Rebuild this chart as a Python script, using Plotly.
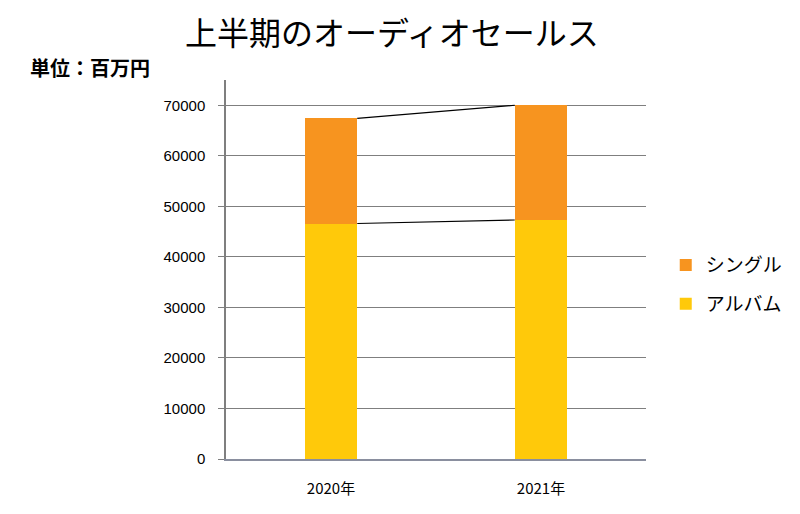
import plotly.graph_objects as go

categories = ["2020年", "2021年"]
album = [46600, 47300]
single = [20800, 22700]
y_ticks = [0, 10000, 20000, 30000, 40000, 50000, 60000, 70000]

BAR_W = 0.25
xs = list(range(len(categories)))
totals = [a + s for a, s in zip(album, single)]

fig = go.Figure()
fig.add_trace(go.Bar(x=xs, y=album, name="アルバム", legendgroup="a", legendrank=2,
                     marker=dict(color="#FFC90A", line=dict(width=0)), width=BAR_W))
fig.add_trace(go.Bar(x=xs, y=single, name="シングル", legendgroup="s", legendrank=1,
                     marker=dict(color="#F7941F", line=dict(width=0)), width=BAR_W))

# series lines (connect segment tops between bars)
for vals in (album, totals):
    fig.add_trace(go.Scatter(
        x=[xs[0] + BAR_W / 2, xs[1] - BAR_W / 2], y=[vals[0], vals[1]],
        mode="lines", line=dict(color="black", width=1.2), showlegend=False, hoverinfo="skip"))

font = "Noto Sans CJK JP"
fig.update_layout(
    barmode="stack",
    width=800, height=514,
    paper_bgcolor="white", plot_bgcolor="white",
    margin=dict(l=226, r=154, t=80, b=55, autoexpand=False),
    font=dict(family=font, color="black"),
    title=dict(text="上半期のオーディオセールス", x=0.49, xanchor="center", y=0.935, yanchor="middle",
               font=dict(size=32, family=font, color="black")),
    legend=dict(x=1.047, y=0.46, xanchor="left", yanchor="middle", traceorder="grouped",
                font=dict(size=19, family=font), itemwidth=30, tracegroupgap=11),
    showlegend=True,
)
fig.update_xaxes(range=[-0.5, 1.5], tickvals=xs, ticktext=categories, showgrid=False,
                 showline=True, linecolor="#8a8f9f", linewidth=1.5, ticks="",
                 tickfont=dict(size=15, family=font), zeroline=False, ticklabelstandoff=15)
fig.update_yaxes(range=[0, 75000], tickvals=y_ticks, ticktext=[str(v) for v in y_ticks],
                 showgrid=True, gridcolor="#7f7f7f", gridwidth=1.2,
                 showline=True, linecolor="#7f7f7f", linewidth=1.5, ticks="outside", ticklen=6,
                 tickcolor="#7f7f7f", tickfont=dict(size=15, family="Liberation Sans"), zeroline=False,
                 ticklabelstandoff=10)

fig.add_annotation(text="<b>単位：百万円</b>", xref="paper", yref="paper", x=-0.472, y=1.032,
                   xanchor="left", yanchor="middle", showarrow=False, font=dict(size=20, family=font))

fig.write_html("out.html", config={"displayModeBar": False},
               post_script="document.body.style.margin='0';")
